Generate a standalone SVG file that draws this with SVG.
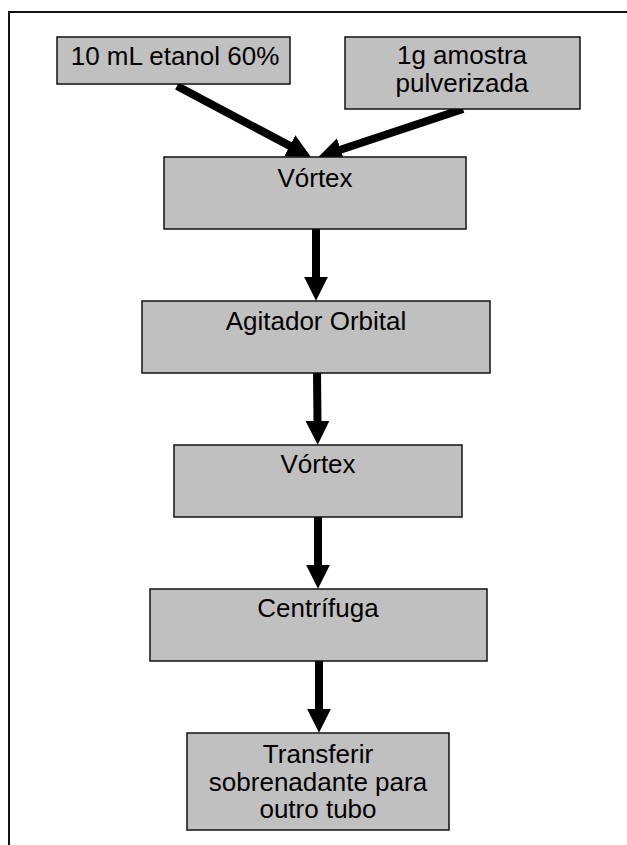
<svg xmlns="http://www.w3.org/2000/svg" width="627" height="845" viewBox="0 0 627 845">
  <style>
    .box { fill: #c0c0c0; stroke: #111; stroke-width: 1.5; }
    .lbl { font-family: "Liberation Sans", Arial, sans-serif; font-size: 26px; fill: #000; text-anchor: middle; }
    .flow { stroke: #000; stroke-width: 8; fill: none; marker-end: url(#head); }
    .frame { fill: none; stroke: #111; stroke-width: 2; }
  </style>
  <defs>
    <marker id="head" viewBox="0 0 10 10" refX="0.5" refY="5" markerWidth="3" markerHeight="3" orient="auto" markerUnits="strokeWidth">
      <path d="M0,0 L10,5 L0,10 z" fill="#000"/>
    </marker>
  </defs>

  <rect width="627" height="845" fill="#fff"/>
  <!-- page frame: left and top edges -->
  <path class="frame" d="M9,845 V12 H627"/>

  <g id="connectors">
    <path class="flow" d="M177,86 L290.8,146.4"/>
    <path class="flow" d="M463,109 L339.7,150"/>
    <path class="flow" d="M316,229 L316,278"/>
    <path class="flow" d="M317,373 L317.5,422"/>
    <path class="flow" d="M318,517 L318,566"/>
    <path class="flow" d="M319,661 L319,710"/>
  </g>

  <g id="etanol">
    <rect class="box" x="57" y="37" width="233" height="47"/>
    <text class="lbl" x="175" y="65">10 mL etanol 60%</text>
  </g>

  <g id="amostra">
    <rect class="box" x="345" y="37" width="235" height="72"/>
    <text class="lbl" x="462" y="64">1g amostra</text>
    <text class="lbl" x="462" y="92">pulverizada</text>
  </g>

  <g id="vortex1">
    <rect class="box" x="164" y="157" width="302" height="72"/>
    <text class="lbl" x="315" y="187">Vórtex</text>
  </g>

  <g id="agitador">
    <rect class="box" x="142" y="301" width="348" height="72"/>
    <text class="lbl" x="316" y="330">Agitador Orbital</text>
  </g>

  <g id="vortex2">
    <rect class="box" x="174" y="445" width="288" height="72"/>
    <text class="lbl" x="318" y="473">Vórtex</text>
  </g>

  <g id="centrifuga">
    <rect class="box" x="150" y="589" width="337" height="72"/>
    <text class="lbl" x="318" y="617">Centrífuga</text>
  </g>

  <g id="transferir">
    <rect class="box" x="187" y="733" width="262" height="97"/>
    <text class="lbl" x="318" y="763">Transferir</text>
    <text class="lbl" x="318" y="791">sobrenadante para</text>
    <text class="lbl" x="318" y="818">outro tubo</text>
  </g>
</svg>
